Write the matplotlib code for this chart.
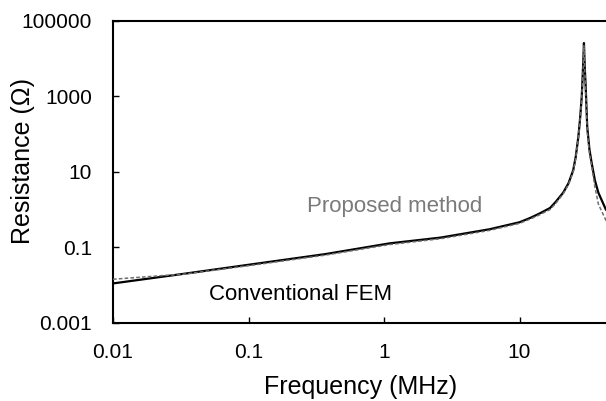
import numpy as np
import matplotlib
matplotlib.use("Agg")
import matplotlib.pyplot as plt

plt.rcParams['font.family'] = ['Liberation Sans', 'DejaVu Sans']

# Conventional FEM (solid)
fem_freq = [0.01, 0.034, 0.11, 0.37, 1.1, 2.6, 6.0, 10, 12, 14, 16.8, 18.5, 21, 23,
            24.9, 26, 27.2, 28, 28.8, 29.2, 29.6, 29.9, 30.3, 30.8, 31.6, 32.8,
            34.1, 36, 38.2, 43.4, 50]
fem_res = [0.011, 0.020, 0.036, 0.066, 0.127, 0.18, 0.30, 0.46, 0.60, 0.78, 1.1, 1.6,
           2.8, 5.0, 11, 25, 86, 260, 990, 3000, 9300, 26000, 6000, 1800, 158, 40,
           17, 6.0, 2.8, 1.0, 0.6]

# Proposed method (dashed)
prop_freq = [0.01, 0.022, 0.034, 0.11, 0.37, 1.1, 2.6, 6.0, 10, 12, 14, 16.8, 18.5,
             21, 23, 24.9, 26, 27.2, 28, 28.8, 29.2, 29.6, 29.9, 30.3, 30.8, 31.6,
             32.8, 34.1, 36, 38.2, 43.4, 50]
prop_res = [0.0142, 0.0175, 0.0195, 0.034, 0.062, 0.118, 0.168, 0.28, 0.43, 0.56, 0.72,
            1.0, 1.45, 2.6, 4.6, 10, 23, 80, 240, 900, 2700, 8000, 22000, 5000, 1500,
            120, 32, 14, 4.0, 1.4, 0.52, 0.3]

xticks = [0.01, 0.1, 1, 10]
xlabels = ['0.01', '0.1', '1', '10']
yticks = [0.001, 0.1, 10, 1000, 100000]
ylabels = ['0.001', '0.1', '10', '1000', '100000']

W, H = 606, 401
fig = plt.figure(figsize=(W/100, H/100), dpi=100)
# axes spans 4 decades, right part falls outside the picture
ax = fig.add_axes([113/W, (H-322.7)/H, 542/W, (322.7-21)/H])

ax.plot(fem_freq, fem_res, color='black', lw=1.6, zorder=2)
ax.plot(prop_freq, prop_res, color='#6e6e6e', lw=1.1, linestyle=(0, (2.4, 1.4)), zorder=3)

ax.set_xscale('log')
ax.set_yscale('log')
ax.set_xlim(0.01, 100)
ax.set_ylim(0.001, 100000)
ax.set_xticks(xticks)
ax.set_xticklabels(xlabels)
ax.set_yticks(yticks)
ax.set_yticklabels(ylabels)
ax.minorticks_off()
ax.tick_params(axis='both', direction='in', length=4.3, width=1.0, labelsize=15)
ax.tick_params(axis='x', pad=14.5)
ax.tick_params(axis='y', pad=15)
for s in ax.spines.values():
    s.set_linewidth(1.5)

ax.text(1.2, 0.86, 'Proposed method', color='#7a7a7a', fontsize=16,
        ha='center', va='baseline')
ax.text(0.242, 0.0040, 'Conventional FEM', color='black', fontsize=16,
        ha='center', va='baseline')

fig.text(360.5/W, 1-394/H, 'Frequency (MHz)', fontsize=18, ha='center', va='baseline')
fig.text(23/W, 1-161.5/H, 'Resistance (\u03a9)', fontsize=18, rotation=90,
         ha='center', va='center')

fig.savefig('out.png', dpi=100)
